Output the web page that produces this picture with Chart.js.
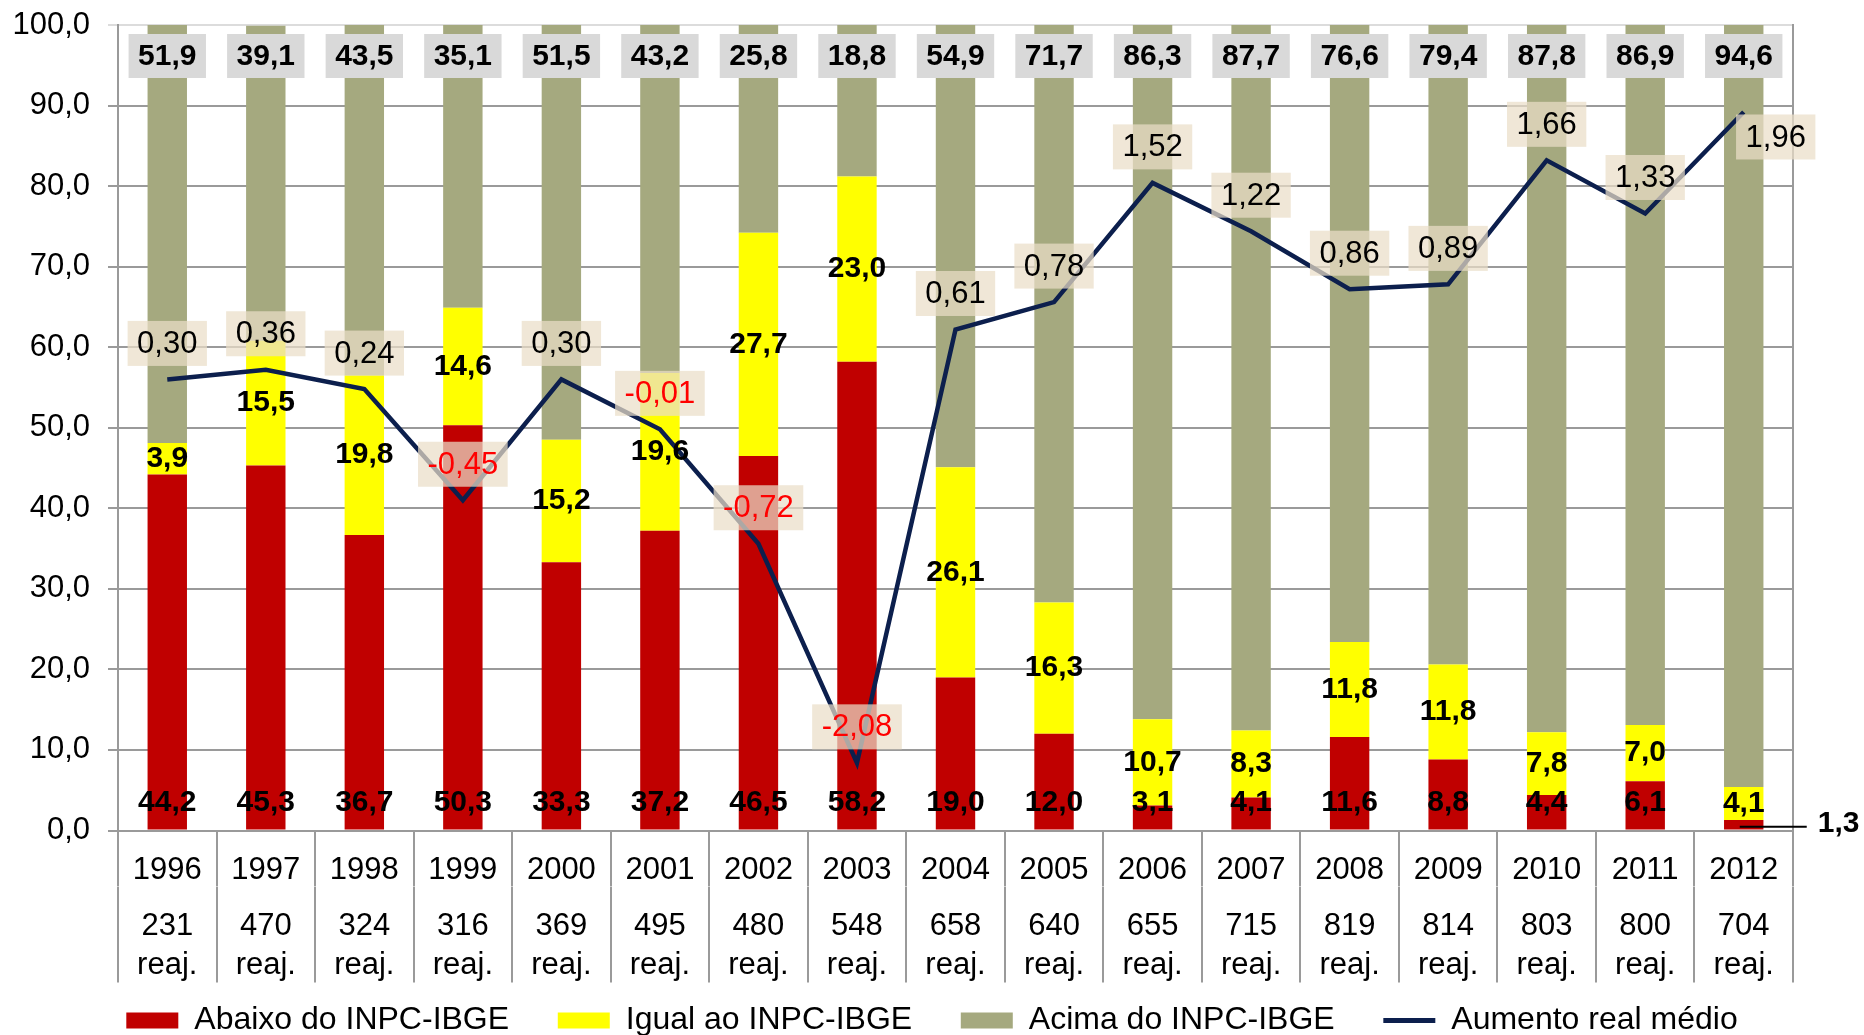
<!DOCTYPE html>
<html><head><meta charset="utf-8">
<script src="https://cdn.jsdelivr.net/npm/chart.js@4.4.1/dist/chart.umd.min.js"></script>
<style>html,body{margin:0;padding:0;background:#fff;}</style>
</head><body>
<canvas id="c" width="1864" height="1035"></canvas>
<script>
const years = ['1996','1997','1998','1999','2000','2001','2002','2003','2004','2005','2006','2007','2008','2009','2010','2011','2012'];
const counts = ['231','470','324','316','369','495','480','548','658','640','655','715','819','814','803','800','704'];
const countSuffix = 'reaj.';
const seriesNames = ['Abaixo do INPC-IBGE','Igual ao INPC-IBGE','Acima do INPC-IBGE','Aumento real médio'];
const abaixo = [44.2,45.3,36.7,50.3,33.3,37.2,46.5,58.2,19.0,12.0,3.1,4.1,11.6,8.8,4.4,6.1,1.3];
const igual  = [3.9,15.5,19.8,14.6,15.2,19.6,27.7,23.0,26.1,16.3,10.7,8.3,11.8,11.8,7.8,7.0,4.1];
const acima  = [51.9,39.1,43.5,35.1,51.5,43.2,25.8,18.8,54.9,71.7,86.3,87.7,76.6,79.4,87.8,86.9,94.6];
const aumento = [0.30,0.36,0.24,-0.45,0.30,-0.01,-0.72,-2.08,0.61,0.78,1.52,1.22,0.86,0.89,1.66,1.33,1.96];

const FONT = '"Liberation Sans", Arial, sans-serif';
Chart.defaults.font.family = FONT;
const GRID = '#9a9a9a';
const fmt1 = v => v.toFixed(1).replace('.', ',');
const fmt2 = v => v.toFixed(2).replace('.', ',');

function box(ctx, cx, cy, w, h, fill){ ctx.fillStyle = fill; ctx.fillRect(cx - w/2, cy - h/2, w, h); }

const labelPlugin = {
  id: 'valueLabels',
  afterDatasetsDraw(chart){
    const ctx = chart.ctx, y = chart.scales.y;
    const mA = chart.getDatasetMeta(0), mI = chart.getDatasetMeta(1), mC = chart.getDatasetMeta(2), mL = chart.getDatasetMeta(3);
    const base = y.getPixelForValue(0);
    ctx.save();
    ctx.textAlign = 'center'; ctx.textBaseline = 'middle';
    const bold = 'bold 30px ' + FONT;
    const norm = '31px ' + FONT;
    ctx.font = bold;
    abaixo.forEach((v, i) => {
      const el = mA.data[i];
      if (v < 2) {
        const ly = (el.y + el.base) / 2 + 2;
        ctx.strokeStyle = '#000'; ctx.lineWidth = 2;
        ctx.beginPath(); ctx.moveTo(el.x - 4, ly); ctx.lineTo(el.x + 63, ly); ctx.stroke();
        ctx.fillStyle = '#000'; ctx.textAlign = 'left';
        ctx.fillText(fmt1(v), el.x + 74, ly - 3);
        ctx.textAlign = 'center';
      } else {
        ctx.fillStyle = '#000';
        ctx.fillText(fmt1(v), el.x, base - 28);
      }
    });
    igual.forEach((v, i) => {
      const el = mI.data[i];
      ctx.fillStyle = '#000';
      ctx.fillText(fmt1(v), el.x, (el.y + el.base) / 2);
    });
    acima.forEach((v, i) => {
      const el = mC.data[i];
      const t = fmt1(v);
      const w = ctx.measureText(t).width + 19;
      const cy = y.top + 31;
      box(ctx, el.x, cy, w, 44, '#d9d9d9');
      ctx.fillStyle = '#000';
      ctx.fillText(t, el.x, cy + 1);
    });
    ctx.font = norm;
    aumento.forEach((v, i) => {
      const p = mL.data[i];
      const t = fmt2(v);
      const w = ctx.measureText(t).width + 19;
      let cx = p.x, cy = p.y - 36;
      if (i === aumento.length - 1) { cx = p.x + 32; cy = p.y + 25; }
      box(ctx, cx, cy, w, 45, 'rgba(234,222,199,0.72)');
      ctx.fillStyle = v < 0 ? '#ff0000' : '#000';
      ctx.fillText(t, cx, cy + 1);
    });
    ctx.restore();
  }
};

new Chart(document.getElementById('c'), {
  type: 'bar',
  data: {
    labels: years,
    datasets: [
      {label: seriesNames[0], data: abaixo, backgroundColor: '#c00000', stack: 's', order: 1},
      {label: seriesNames[1], data: igual, backgroundColor: '#ffff00', stack: 's', order: 1},
      {label: seriesNames[2], data: acima, backgroundColor: '#a5a97f', stack: 's', order: 1},
      {type: 'line', label: seriesNames[3], data: aumento, yAxisID: 'y2', borderColor: '#0c1f4d', backgroundColor: '#0c1f4d', borderWidth: 4.5, pointRadius: 0, tension: 0, fill: false, order: 0}
    ]
  },
  options: {
    responsive: false, animation: false, devicePixelRatio: 1,
    layout: {padding: {top: 25, left: 0, right: 0, bottom: -11.5}},
    datasets: {bar: {barPercentage: 0.4, categoryPercentage: 1}},
    scales: {
      x: {
        stacked: true, offset: true,
        grid: {offset: true, drawOnChartArea: false, drawTicks: true, tickLength: 56, color: GRID, lineWidth: 2},
        border: {display: true, color: GRID, width: 2},
        ticks: {padding: -34.6, font: {size: 31, lineHeight: 1.2}, color: '#000', maxRotation: 0, autoSkip: false},
        afterFit(s){ s.height = 56; }
      },
      x2: {
        type: 'category', labels: counts.map(c => [c, countSuffix]), position: 'bottom', offset: true,
        grid: {offset: true, drawOnChartArea: false, drawTicks: true, tickLength: 96, color: GRID, lineWidth: 2},
        border: {display: false},
        ticks: {padding: -76, font: {size: 31, lineHeight: 1.26}, color: '#000', maxRotation: 0, autoSkip: false},
        afterFit(s){ s.height = 96; }
      },
      y: {
        stacked: true, min: 0, max: 100,
        ticks: {stepSize: 10, padding: 18, font: {size: 31, lineHeight: 0.35}, color: '#000', callback: v => fmt1(v)},
        grid: {color: c => (c.tick && c.tick.value === 100) ? '#dcdcdc' : GRID, lineWidth: 2, tickLength: 10},
        border: {color: GRID, width: 2},
        afterFit(s){ s.width = 118; }
      },
      y2: {
        position: 'right', min: -2.5, max: 2.5,
        ticks: {display: false},
        grid: {drawOnChartArea: false, drawTicks: false},
        border: {color: GRID, width: 2},
        afterFit(s){ s.width = 71; }
      }
    },
    plugins: {
      tooltip: {enabled: false},
      legend: {
        position: 'bottom',
        labels: {
          usePointStyle: true, pointStyleWidth: 52, boxHeight: 16, padding: 22,
          font: {size: 32}, color: '#000',
          sort: (a, b) => a.datasetIndex - b.datasetIndex,
          generateLabels(chart){
            const items = Chart.defaults.plugins.legend.labels.generateLabels(chart);
            items.forEach(it => {
              const ds = chart.data.datasets[it.datasetIndex];
              if (ds.type === 'line') { it.pointStyle = 'line'; it.lineWidth = 5; it.strokeStyle = ds.borderColor; it.fillStyle = ds.borderColor; }
              else { it.pointStyle = 'rect'; it.lineWidth = 0; it.strokeStyle = ds.backgroundColor; it.fillStyle = ds.backgroundColor; it.text = it.text + '   '; }
            });
            return items;
          }
        }
      }
    }
  },
  plugins: [labelPlugin]
});
</script>
</body></html>
